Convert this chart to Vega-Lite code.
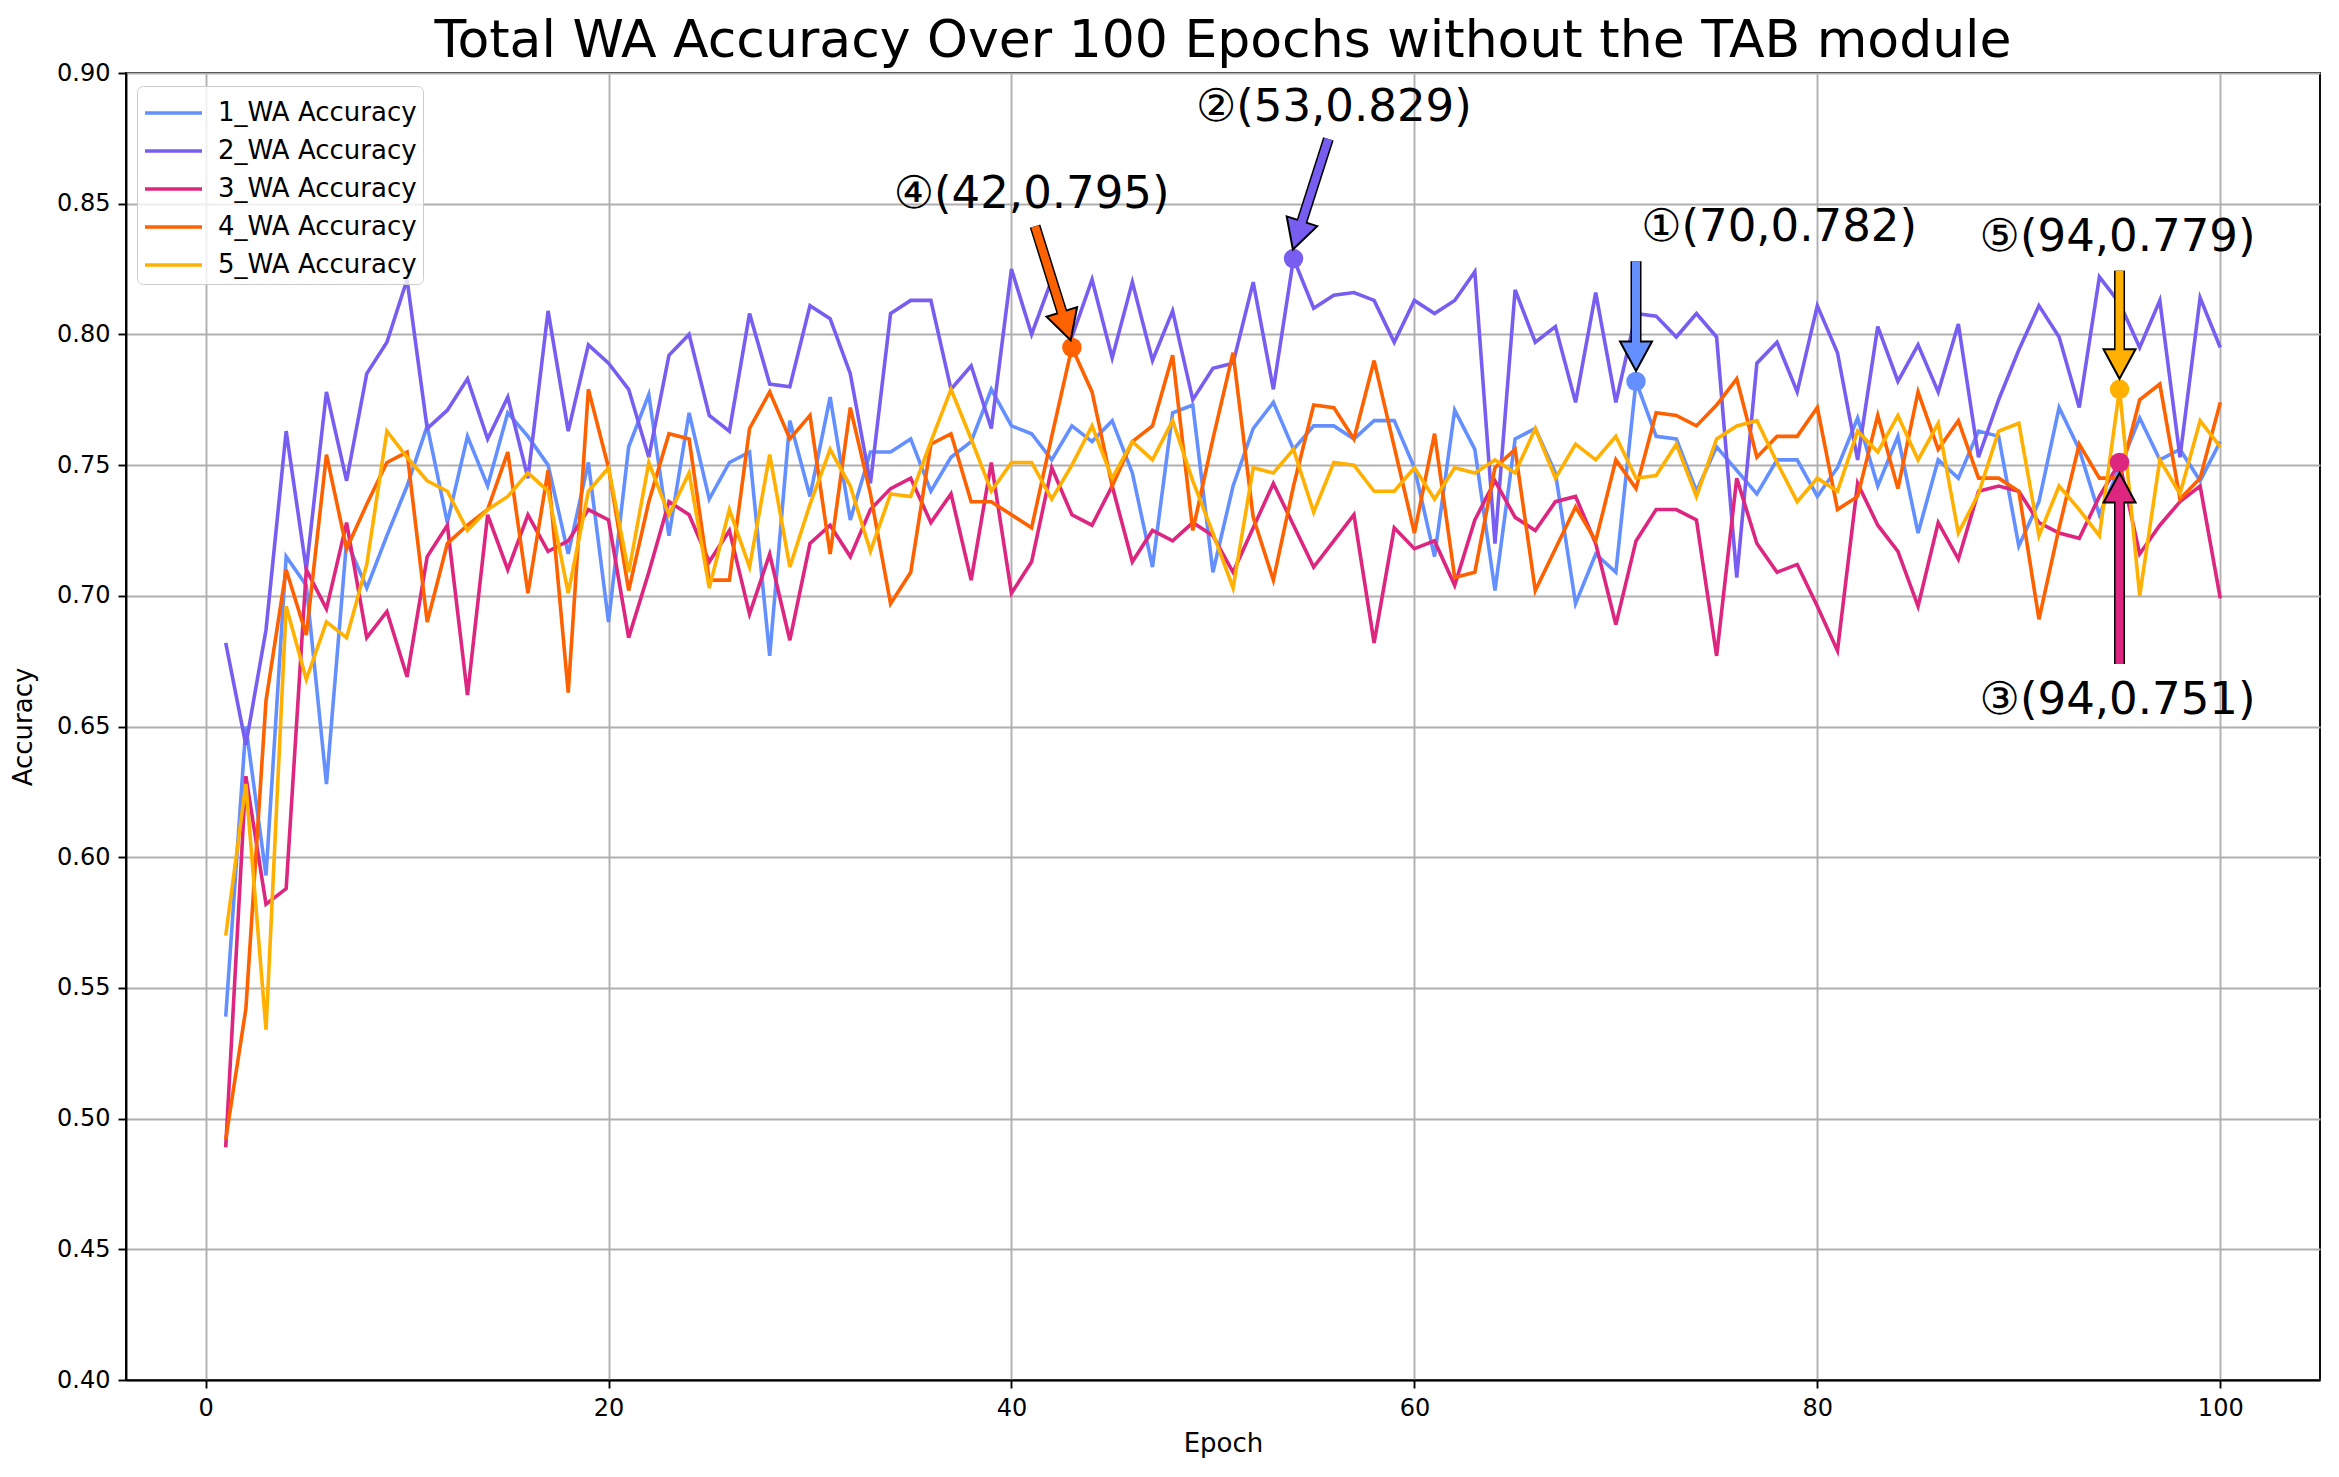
{
  "$schema": "https://vega.github.io/schema/vega-lite/v6.json",
  "autosize": {"type": "none"},
  "padding": {"left": 126, "top": 73, "right": 19, "bottom": 97},
  "width": 2194,
  "height": 1307,
  "background": "white",
  "title": {"text": "Total WA Accuracy Over 100 Epochs without the TAB module", "fontSize": 52, "font": "DejaVu Sans", "fontWeight": "normal", "color": "black", "offset": -7, "anchor": "middle"},
  "config": {
    "font": "DejaVu Sans",
    "view": {"stroke": "black", "strokeWidth": 1.9},
    "axis": {"domainColor": "black", "domainWidth": 1.9, "tickColor": "black", "tickWidth": 1.9, "tickSize": 8, "labelFontSize": 24, "labelColor": "black", "labelFont": "DejaVu Sans", "titleFontSize": 26, "titleFont": "DejaVu Sans", "titleFontWeight": "normal", "titleColor": "black", "gridColor": "#b0b0b0", "gridWidth": 1.9, "gridOpacity": 1, "labelPadding": 8}
  },
  "datasets": {
    "acc": [
      {"epoch":1,"s1":0.539,"s2":0.682,"s3":0.489,"s4":0.492,"s5":0.570},
      {"epoch":2,"s1":0.650,"s2":0.643,"s3":0.631,"s4":0.542,"s5":0.628},
      {"epoch":3,"s1":0.593,"s2":0.687,"s3":0.582,"s4":0.660,"s5":0.534},
      {"epoch":4,"s1":0.715,"s2":0.763,"s3":0.588,"s4":0.710,"s5":0.696},
      {"epoch":5,"s1":0.704,"s2":0.710,"s3":0.710,"s4":0.685,"s5":0.668},
      {"epoch":6,"s1":0.628,"s2":0.778,"s3":0.695,"s4":0.754,"s5":0.690},
      {"epoch":7,"s1":0.721,"s2":0.744,"s3":0.728,"s4":0.718,"s5":0.684},
      {"epoch":8,"s1":0.703,"s2":0.785,"s3":0.684,"s4":0.735,"s5":0.712},
      {"epoch":9,"s1":0.723,"s2":0.797,"s3":0.694,"s4":0.751,"s5":0.763},
      {"epoch":10,"s1":0.742,"s2":0.821,"s3":0.669,"s4":0.755,"s5":0.753},
      {"epoch":11,"s1":0.765,"s2":0.764,"s3":0.715,"s4":0.690,"s5":0.744},
      {"epoch":12,"s1":0.728,"s2":0.771,"s3":0.727,"s4":0.720,"s5":0.740},
      {"epoch":13,"s1":0.761,"s2":0.783,"s3":0.662,"s4":0.727,"s5":0.725},
      {"epoch":14,"s1":0.742,"s2":0.760,"s3":0.731,"s4":0.733,"s5":0.733},
      {"epoch":15,"s1":0.770,"s2":0.776,"s3":0.710,"s4":0.755,"s5":0.738},
      {"epoch":16,"s1":0.761,"s2":0.745,"s3":0.731,"s4":0.701,"s5":0.747},
      {"epoch":17,"s1":0.750,"s2":0.809,"s3":0.717,"s4":0.748,"s5":0.740},
      {"epoch":18,"s1":0.716,"s2":0.763,"s3":0.721,"s4":0.663,"s5":0.701},
      {"epoch":19,"s1":0.751,"s2":0.796,"s3":0.733,"s4":0.779,"s5":0.740},
      {"epoch":20,"s1":0.690,"s2":0.789,"s3":0.729,"s4":0.749,"s5":0.749},
      {"epoch":21,"s1":0.757,"s2":0.779,"s3":0.684,"s4":0.702,"s5":0.709},
      {"epoch":22,"s1":0.777,"s2":0.753,"s3":0.709,"s4":0.736,"s5":0.751},
      {"epoch":23,"s1":0.723,"s2":0.792,"s3":0.736,"s4":0.762,"s5":0.731},
      {"epoch":24,"s1":0.770,"s2":0.800,"s3":0.731,"s4":0.760,"s5":0.747},
      {"epoch":25,"s1":0.737,"s2":0.769,"s3":0.713,"s4":0.706,"s5":0.703},
      {"epoch":26,"s1":0.751,"s2":0.763,"s3":0.725,"s4":0.706,"s5":0.733},
      {"epoch":27,"s1":0.755,"s2":0.808,"s3":0.693,"s4":0.764,"s5":0.711},
      {"epoch":28,"s1":0.677,"s2":0.781,"s3":0.716,"s4":0.778,"s5":0.754},
      {"epoch":29,"s1":0.767,"s2":0.780,"s3":0.683,"s4":0.760,"s5":0.711},
      {"epoch":30,"s1":0.738,"s2":0.811,"s3":0.720,"s4":0.769,"s5":0.735},
      {"epoch":31,"s1":0.776,"s2":0.806,"s3":0.727,"s4":0.716,"s5":0.756},
      {"epoch":32,"s1":0.729,"s2":0.785,"s3":0.715,"s4":0.772,"s5":0.742},
      {"epoch":33,"s1":0.755,"s2":0.743,"s3":0.733,"s4":0.739,"s5":0.717},
      {"epoch":34,"s1":0.755,"s2":0.808,"s3":0.741,"s4":0.697,"s5":0.739},
      {"epoch":35,"s1":0.760,"s2":0.813,"s3":0.745,"s4":0.709,"s5":0.738},
      {"epoch":36,"s1":0.740,"s2":0.813,"s3":0.728,"s4":0.758,"s5":0.759},
      {"epoch":37,"s1":0.753,"s2":0.779,"s3":0.739,"s4":0.762,"s5":0.779},
      {"epoch":38,"s1":0.759,"s2":0.788,"s3":0.706,"s4":0.736,"s5":0.760},
      {"epoch":39,"s1":0.779,"s2":0.764,"s3":0.751,"s4":0.736,"s5":0.740},
      {"epoch":40,"s1":0.765,"s2":0.825,"s3":0.701,"s4":0.731,"s5":0.751},
      {"epoch":41,"s1":0.762,"s2":0.800,"s3":0.713,"s4":0.726,"s5":0.751},
      {"epoch":42,"s1":0.752,"s2":0.821,"s3":0.749,"s4":0.761,"s5":0.737},
      {"epoch":43,"s1":0.765,"s2":0.799,"s3":0.731,"s4":0.795,"s5":0.750},
      {"epoch":44,"s1":0.759,"s2":0.821,"s3":0.727,"s4":0.778,"s5":0.765},
      {"epoch":45,"s1":0.767,"s2":0.791,"s3":0.742,"s4":0.742,"s5":0.745},
      {"epoch":46,"s1":0.747,"s2":0.820,"s3":0.713,"s4":0.759,"s5":0.759},
      {"epoch":47,"s1":0.711,"s2":0.790,"s3":0.725,"s4":0.765,"s5":0.752},
      {"epoch":48,"s1":0.770,"s2":0.809,"s3":0.721,"s4":0.792,"s5":0.767},
      {"epoch":49,"s1":0.773,"s2":0.775,"s3":0.728,"s4":0.725,"s5":0.744},
      {"epoch":50,"s1":0.709,"s2":0.787,"s3":0.723,"s4":0.760,"s5":0.724},
      {"epoch":51,"s1":0.742,"s2":0.789,"s3":0.709,"s4":0.793,"s5":0.703},
      {"epoch":52,"s1":0.764,"s2":0.820,"s3":0.726,"s4":0.730,"s5":0.749},
      {"epoch":53,"s1":0.774,"s2":0.779,"s3":0.743,"s4":0.706,"s5":0.747},
      {"epoch":54,"s1":0.756,"s2":0.829,"s3":0.727,"s4":0.742,"s5":0.756},
      {"epoch":55,"s1":0.765,"s2":0.810,"s3":0.711,"s4":0.773,"s5":0.732},
      {"epoch":56,"s1":0.765,"s2":0.815,"s3":0.721,"s4":0.772,"s5":0.751},
      {"epoch":57,"s1":0.760,"s2":0.816,"s3":0.731,"s4":0.760,"s5":0.750},
      {"epoch":58,"s1":0.767,"s2":0.813,"s3":0.682,"s4":0.790,"s5":0.740},
      {"epoch":59,"s1":0.767,"s2":0.797,"s3":0.726,"s4":0.757,"s5":0.740},
      {"epoch":60,"s1":0.749,"s2":0.813,"s3":0.718,"s4":0.724,"s5":0.749},
      {"epoch":61,"s1":0.715,"s2":0.808,"s3":0.721,"s4":0.762,"s5":0.737},
      {"epoch":62,"s1":0.771,"s2":0.813,"s3":0.704,"s4":0.707,"s5":0.749},
      {"epoch":63,"s1":0.756,"s2":0.824,"s3":0.729,"s4":0.709,"s5":0.747},
      {"epoch":64,"s1":0.702,"s2":0.720,"s3":0.744,"s4":0.749,"s5":0.752},
      {"epoch":65,"s1":0.760,"s2":0.817,"s3":0.730,"s4":0.756,"s5":0.747},
      {"epoch":66,"s1":0.764,"s2":0.797,"s3":0.725,"s4":0.702,"s5":0.764},
      {"epoch":67,"s1":0.747,"s2":0.803,"s3":0.736,"s4":0.718,"s5":0.745},
      {"epoch":68,"s1":0.697,"s2":0.774,"s3":0.738,"s4":0.734,"s5":0.758},
      {"epoch":69,"s1":0.716,"s2":0.816,"s3":0.720,"s4":0.721,"s5":0.752},
      {"epoch":70,"s1":0.709,"s2":0.774,"s3":0.689,"s4":0.752,"s5":0.761},
      {"epoch":71,"s1":0.782,"s2":0.808,"s3":0.721,"s4":0.741,"s5":0.745},
      {"epoch":72,"s1":0.761,"s2":0.807,"s3":0.733,"s4":0.770,"s5":0.746},
      {"epoch":73,"s1":0.760,"s2":0.799,"s3":0.733,"s4":0.769,"s5":0.758},
      {"epoch":74,"s1":0.740,"s2":0.808,"s3":0.729,"s4":0.765,"s5":0.738},
      {"epoch":75,"s1":0.757,"s2":0.799,"s3":0.677,"s4":0.773,"s5":0.760},
      {"epoch":76,"s1":0.748,"s2":0.707,"s3":0.745,"s4":0.783,"s5":0.765},
      {"epoch":77,"s1":0.739,"s2":0.789,"s3":0.720,"s4":0.753,"s5":0.767},
      {"epoch":78,"s1":0.752,"s2":0.797,"s3":0.709,"s4":0.761,"s5":0.751},
      {"epoch":79,"s1":0.752,"s2":0.778,"s3":0.712,"s4":0.761,"s5":0.736},
      {"epoch":80,"s1":0.738,"s2":0.811,"s3":0.696,"s4":0.772,"s5":0.745},
      {"epoch":81,"s1":0.749,"s2":0.793,"s3":0.679,"s4":0.733,"s5":0.740},
      {"epoch":82,"s1":0.768,"s2":0.752,"s3":0.743,"s4":0.738,"s5":0.763},
      {"epoch":83,"s1":0.742,"s2":0.803,"s3":0.727,"s4":0.769,"s5":0.755},
      {"epoch":84,"s1":0.761,"s2":0.782,"s3":0.717,"s4":0.741,"s5":0.769},
      {"epoch":85,"s1":0.724,"s2":0.796,"s3":0.696,"s4":0.778,"s5":0.752},
      {"epoch":86,"s1":0.752,"s2":0.778,"s3":0.728,"s4":0.756,"s5":0.766},
      {"epoch":87,"s1":0.745,"s2":0.804,"s3":0.714,"s4":0.767,"s5":0.724},
      {"epoch":88,"s1":0.763,"s2":0.753,"s3":0.740,"s4":0.745,"s5":0.739},
      {"epoch":89,"s1":0.761,"s2":0.775,"s3":0.742,"s4":0.745,"s5":0.763},
      {"epoch":90,"s1":0.719,"s2":0.794,"s3":0.740,"s4":0.740,"s5":0.766},
      {"epoch":91,"s1":0.736,"s2":0.811,"s3":0.728,"s4":0.691,"s5":0.723},
      {"epoch":92,"s1":0.772,"s2":0.799,"s3":0.724,"s4":0.726,"s5":0.742},
      {"epoch":93,"s1":0.756,"s2":0.772,"s3":0.722,"s4":0.758,"s5":0.733},
      {"epoch":94,"s1":0.731,"s2":0.822,"s3":0.738,"s4":0.745,"s5":0.723},
      {"epoch":95,"s1":0.749,"s2":0.812,"s3":0.751,"s4":0.745,"s5":0.779},
      {"epoch":96,"s1":0.768,"s2":0.795,"s3":0.716,"s4":0.775,"s5":0.700},
      {"epoch":97,"s1":0.752,"s2":0.813,"s3":0.727,"s4":0.781,"s5":0.752},
      {"epoch":98,"s1":0.756,"s2":0.753,"s3":0.736,"s4":0.737,"s5":0.739},
      {"epoch":99,"s1":0.744,"s2":0.814,"s3":0.742,"s4":0.745,"s5":0.767},
      {"epoch":100,"s1":0.759,"s2":0.795,"s3":0.699,"s4":0.774,"s5":0.757}
    ],
    "marks": [
      {"series":"s1","x":71,"y":0.782},
      {"series":"s2","x":54,"y":0.829},
      {"series":"s3","x":95,"y":0.751},
      {"series":"s4","x":43,"y":0.795},
      {"series":"s5","x":95,"y":0.779}
    ],
    "arrows": [
      {"series":"s1","x1":71,"y1":0.828,"xb":71,"yb":0.7975,"xi":71,"yi":0.7964,"xt":71,"yt":0.786},
      {"series":"s2","x1":55.73,"y1":0.8748,"xb":54.425,"yb":0.8434,"xi":54.38,"yi":0.8423,"xt":53.97,"yt":0.8325},
      {"series":"s3","x1":95,"y1":0.6739,"xb":95,"yb":0.7355,"xi":95,"yi":0.7367,"xt":95,"yt":0.747},
      {"series":"s4","x1":41.17,"y1":0.8414,"xb":42.495,"yb":0.8088,"xi":42.54,"yi":0.8077,"xt":42.94,"yt":0.7978},
      {"series":"s5","x1":95,"y1":0.8244,"xb":95,"yb":0.7945,"xi":95,"yi":0.7934,"xt":95,"yt":0.783}
    ],
    "labels": [
      {"label":"①(70,0.782)","x":78.1,"y":0.8357},
      {"label":"②(53,0.829)","x":56.0,"y":0.8818},
      {"label":"③(94,0.751)","x":94.9,"y":0.6549},
      {"label":"④(42,0.795)","x":41.0,"y":0.8485},
      {"label":"⑤(94,0.779)","x":94.9,"y":0.8318}
    ]
  },
  "layer": [
    {
      "data": {"name": "acc"},
      "transform": [{"fold": ["s1","s2","s3","s4","s5"], "as": ["series","acc"]}],
      "mark": {"type": "line", "strokeWidth": 3.6},
      "encoding": {
        "x": {"field": "epoch", "type": "quantitative", "title": "Epoch", "scale": {"domain": [-3.95, 104.95], "nice": false, "zero": false}, "axis": {"values": [0,20,40,60,80,100], "titlePadding": 10, "grid": true}},
        "y": {"field": "acc", "type": "quantitative", "title": "Accuracy", "scale": {"domain": [0.4, 0.9], "nice": false, "zero": false}, "axis": {"values": [0.4,0.45,0.5,0.55,0.6,0.65,0.7,0.75,0.8,0.85,0.9], "format": ".2f", "titlePadding": 20, "grid": true}},
        "color": {"field": "series", "type": "nominal", "scale": {"domain": ["s1","s2","s3","s4","s5"], "range": ["#648FFF","#785EF0","#DC267F","#FE6100","#FFB000"]},
          "legend": {"title": null, "orient": "none", "legendX": 11, "legendY": 13, "labelExpr": "slice(datum.label, 1) + '_WA Accuracy'", "labelFontSize": 26, "labelFont": "DejaVu Sans", "labelColor": "black", "labelLimit": 500, "symbolType": "M-1,0L2,0", "symbolStrokeWidth": 3.6, "symbolSize": 1444, "labelOffset": 33, "rowPadding": 4, "padding": 6, "fillColor": "rgba(255,255,255,0.8)", "strokeColor": "#cccccc", "cornerRadius": 6}}
      }
    },
    {
      "data": {"name": "marks"},
      "mark": {"type": "point", "filled": true, "shape": "circle", "size": 380, "opacity": 1},
      "encoding": {
        "x": {"field": "x", "type": "quantitative", "title": "Epoch"},
        "y": {"field": "y", "type": "quantitative", "title": "Accuracy"},
        "color": {"field": "series", "type": "nominal", "legend": null}
      }
    },
    {
      "data": {"name": "arrows"},
      "mark": {"type": "rule", "color": "black", "strokeWidth": 11, "strokeCap": "butt"},
      "encoding": {
        "x": {"field": "x1", "type": "quantitative", "title": "Epoch"},
        "y": {"field": "y1", "type": "quantitative", "title": "Accuracy"},
        "x2": {"field": "xb"},
        "y2": {"field": "yb"}
      }
    },
    {
      "data": {"name": "arrows"},
      "transform": [{"filter": "datum.series === 's1' || datum.series === 's5'"}],
      "mark": {"type": "point", "shape": "M0,0L-1,1.85L1,1.85Z", "size": 1024, "filled": true, "stroke": "black", "strokeWidth": 2, "angle": 180, "opacity": 1},
      "encoding": {
        "x": {"field": "xt", "type": "quantitative", "title": "Epoch"},
        "y": {"field": "yt", "type": "quantitative", "title": "Accuracy"},
        "color": {"field": "series", "type": "nominal", "legend": null}
      }
    },
    {
      "data": {"name": "arrows"},
      "transform": [{"filter": "datum.series === 's3'"}],
      "mark": {"type": "point", "shape": "M0,0L-1,1.85L1,1.85Z", "size": 1024, "filled": true, "stroke": "black", "strokeWidth": 2, "angle": 0, "opacity": 1},
      "encoding": {
        "x": {"field": "xt", "type": "quantitative", "title": "Epoch"},
        "y": {"field": "yt", "type": "quantitative", "title": "Accuracy"},
        "color": {"field": "series", "type": "nominal", "legend": null}
      }
    },
    {
      "data": {"name": "arrows"},
      "transform": [{"filter": "datum.series === 's2'"}],
      "mark": {"type": "point", "shape": "M0,0L-1,1.85L1,1.85Z", "size": 1024, "filled": true, "stroke": "black", "strokeWidth": 2, "angle": 197.8, "opacity": 1},
      "encoding": {
        "x": {"field": "xt", "type": "quantitative", "title": "Epoch"},
        "y": {"field": "yt", "type": "quantitative", "title": "Accuracy"},
        "color": {"field": "series", "type": "nominal", "legend": null}
      }
    },
    {
      "data": {"name": "arrows"},
      "transform": [{"filter": "datum.series === 's4'"}],
      "mark": {"type": "point", "shape": "M0,0L-1,1.85L1,1.85Z", "size": 1024, "filled": true, "stroke": "black", "strokeWidth": 2, "angle": 162.6, "opacity": 1},
      "encoding": {
        "x": {"field": "xt", "type": "quantitative", "title": "Epoch"},
        "y": {"field": "yt", "type": "quantitative", "title": "Accuracy"},
        "color": {"field": "series", "type": "nominal", "legend": null}
      }
    },
    {
      "data": {"name": "arrows"},
      "mark": {"type": "rule", "strokeWidth": 8, "strokeCap": "butt"},
      "encoding": {
        "x": {"field": "x1", "type": "quantitative", "title": "Epoch"},
        "y": {"field": "y1", "type": "quantitative", "title": "Accuracy"},
        "x2": {"field": "xi"},
        "y2": {"field": "yi"},
        "color": {"field": "series", "type": "nominal", "legend": null}
      }
    },
    {
      "data": {"name": "labels"},
      "mark": {"type": "text", "fontSize": 45, "font": "DejaVu Sans", "align": "center", "baseline": "alphabetic", "color": "black"},
      "encoding": {
        "x": {"field": "x", "type": "quantitative", "title": "Epoch"},
        "y": {"field": "y", "type": "quantitative", "title": "Accuracy"},
        "text": {"field": "label"}
      }
    }
  ]
}
